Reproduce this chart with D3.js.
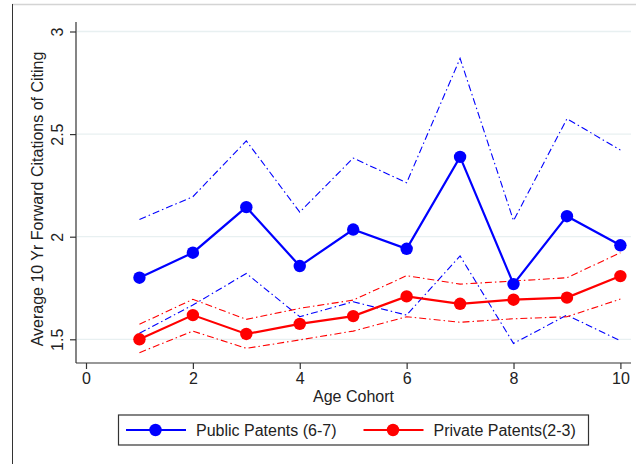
<!DOCTYPE html>
<html>
<head>
<meta charset="utf-8">
<script src="https://cdnjs.cloudflare.com/ajax/libs/d3/7.8.5/d3.min.js"></script>
<style>
  body { margin: 0; background: #fff; }
  text { font-family: Arial, "Liberation Sans", Helvetica, sans-serif; fill: #222; }
</style>
</head>
<body>
<div class="chart"></div>
<script>
// Data
var cohorts = [1, 2, 3, 4, 5, 6, 7, 8, 9, 10];

var publicMean  = [1.80, 1.922, 2.144, 1.857, 2.035, 1.941, 2.389, 1.769, 2.10, 1.958];
var publicUpper = [2.084, 2.195, 2.467, 2.12, 2.383, 2.263, 2.869, 2.078, 2.575, 2.422];
var publicLower = [1.529, 1.667, 1.821, 1.61, 1.683, 1.618, 1.906, 1.48, 1.618, 1.493];

var privateMean  = [1.50, 1.618, 1.526, 1.575, 1.613, 1.709, 1.673, 1.693, 1.703, 1.808];
var privateUpper = [1.573, 1.695, 1.597, 1.651, 1.691, 1.81, 1.769, 1.784, 1.80, 1.922];
var privateLower = [1.435, 1.54, 1.456, 1.497, 1.54, 1.61, 1.583, 1.60, 1.61, 1.696];

var xTicks = [0, 2, 4, 6, 8, 10];
var yTicks = [1.5, 2, 2.5, 3];
var legendLabels = ["Public Patents (6-7)", "Private Patents(2-3)"];
var seriesColors = ["#0000ff", "#ff0000"];

// Chart parameters
var width = 636,
  height = 464,
  plotLeft = 76,
  plotRight = 631,
  plotTop = 22,
  plotBottom = 363,
  markerRadius = 6.2,
  fontSize = "16px",
  ciDash = "7,3,1.5,3";

var svg = d3.select(".chart").append("svg")
  .attr("width", width)
  .attr("height", height);

var x = d3.scaleLinear().domain([0, 10]).range([86, 620.4]),
  y = d3.scaleLinear().domain([1.5, 3]).range([339.3, 31.5]);

// outer frame bits (cropped graph region)
svg.append("line")
  .attr("x1", 12).attr("x2", width).attr("y1", 4.5).attr("y2", 4.5)
  .style("stroke", "#d4d4d4").style("stroke-width", 1.6);
svg.append("line")
  .attr("x1", 12.5).attr("x2", 12.5).attr("y1", 4).attr("y2", height)
  .style("stroke", "#333").style("stroke-width", 1);

// gridlines
svg.append("g")
  .selectAll("line")
  .data(yTicks)
  .enter().append("line")
    .attr("x1", plotLeft + 1).attr("x2", plotRight)
    .attr("y1", function(d) { return y(d); })
    .attr("y2", function(d) { return y(d); })
    .style("stroke", "#e8f0f1")
    .style("stroke-width", 1.3);

// y axis
var yAxis = d3.axisLeft(y)
  .tickValues(yTicks)
  .tickSize(6)
  .tickPadding(4)
  .tickFormat(d3.format("~g"));

var yG = svg.append("g")
  .attr("transform", "translate(" + plotLeft + ",0)")
  .call(yAxis);
yG.select(".domain").remove();
yG.append("line")
  .attr("x1", 0).attr("x2", 0).attr("y1", plotTop).attr("y2", plotBottom)
  .style("stroke", "#333").style("stroke-width", 1.2);
yG.selectAll(".tick line").style("stroke", "#333").style("stroke-width", 1.2);
yG.selectAll(".tick text")
  .attr("x", null).attr("dy", null)
  .attr("text-anchor", "middle")
  .attr("transform", "translate(-13,0) rotate(-90)")
  .style("font-size", fontSize)
  .style("fill", "#222");

// x axis
var xAxis = d3.axisBottom(x)
  .tickValues(xTicks)
  .tickSize(6)
  .tickPadding(4)
  .tickFormat(d3.format("d"));

var xG = svg.append("g")
  .attr("transform", "translate(0," + plotBottom + ")")
  .call(xAxis);
xG.select(".domain").remove();
xG.append("line")
  .attr("x1", plotLeft).attr("x2", plotRight).attr("y1", 0).attr("y2", 0)
  .style("stroke", "#333").style("stroke-width", 1.2);
xG.selectAll(".tick line").style("stroke", "#333").style("stroke-width", 1.2);
xG.selectAll(".tick text")
  .style("font-size", fontSize)
  .style("fill", "#222");

// axis titles
svg.append("text")
  .attr("x", (plotLeft + plotRight) / 2)
  .attr("y", 402)
  .attr("text-anchor", "middle")
  .style("font-size", fontSize)
  .text("Age Cohort");

svg.append("text")
  .attr("transform", "translate(43," + 199 + ") rotate(-90)")
  .attr("text-anchor", "middle")
  .style("font-size", fontSize)
  .text("Average 10 Yr Forward Citations of Citing");

// series
var line = d3.line()
  .x(function(d) { return x(d[0]); })
  .y(function(d) { return y(d[1]); });

function pairs(vals) {
  return cohorts.map(function(c, i) { return [c, vals[i]]; });
}

var ciSeries = [
  { vals: publicUpper, color: seriesColors[0] },
  { vals: publicLower, color: seriesColors[0] },
  { vals: privateUpper, color: seriesColors[1] },
  { vals: privateLower, color: seriesColors[1] }
];

svg.append("g")
  .selectAll("path")
  .data(ciSeries)
  .enter().append("path")
    .attr("d", function(d) { return line(pairs(d.vals)); })
    .style("fill", "none")
    .style("stroke", function(d) { return d.color; })
    .style("stroke-width", 1.1)
    .style("stroke-dasharray", ciDash);

var mainSeries = [
  { vals: publicMean, color: seriesColors[0] },
  { vals: privateMean, color: seriesColors[1] }
];

var mains = svg.append("g")
  .selectAll("g")
  .data(mainSeries)
  .enter().append("g");

mains.append("path")
  .attr("d", function(d) { return line(pairs(d.vals)); })
  .style("fill", "none")
  .style("stroke", function(d) { return d.color; })
  .style("stroke-width", 2.2);

mains.each(function(s) {
  d3.select(this).selectAll("circle")
    .data(pairs(s.vals))
    .enter().append("circle")
      .attr("cx", function(d) { return x(d[0]); })
      .attr("cy", function(d) { return y(d[1]); })
      .attr("r", markerRadius)
      .style("fill", s.color);
});

// legend
var legend = svg.append("g");
legend.append("rect")
  .attr("x", 118.5).attr("y", 415)
  .attr("width", 470).attr("height", 30)
  .style("fill", "#fff")
  .style("stroke", "#333")
  .style("stroke-width", 1.2);

var legendX = [126, 363.5];
var items = legend.selectAll("g.item")
  .data(legendLabels)
  .enter().append("g")
    .attr("class", "item")
    .attr("transform", function(d, i) { return "translate(" + legendX[i] + ",430)"; });

items.append("line")
  .attr("x1", 0).attr("x2", 60)
  .style("stroke", function(d, i) { return seriesColors[i]; })
  .style("stroke-width", 2.2);
items.append("circle")
  .attr("cx", 29.5)
  .attr("r", markerRadius)
  .style("fill", function(d, i) { return seriesColors[i]; });
items.append("text")
  .attr("x", 70)
  .attr("y", 6)
  .style("font-size", fontSize)
  .text(function(d) { return d; });
</script>
</body>
</html>
